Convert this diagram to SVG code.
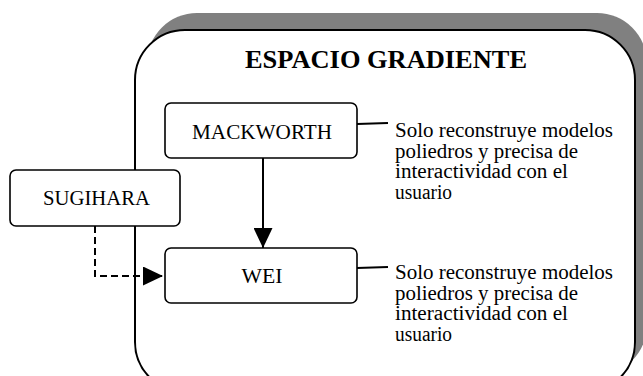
<svg xmlns="http://www.w3.org/2000/svg" width="643" height="376" viewBox="0 0 643 376">
<defs>
<style>
.box{fill:#fff;stroke:#000;stroke-width:1.6}
.lbl{font-family:"Liberation Serif","Times New Roman",serif;font-size:20px;fill:#000;text-anchor:middle}
.note{font-family:"Liberation Serif","Times New Roman",serif;font-size:20px;fill:#000}
.title{font-family:"Liberation Serif","Times New Roman",serif;font-size:26px;font-weight:bold;fill:#000;text-anchor:middle}
.ln{stroke:#000;stroke-width:2;fill:none}
</style>
<marker id="ah" markerWidth="20" markerHeight="19" refX="20" refY="9.5" orient="auto" markerUnits="userSpaceOnUse">
<path d="M0,0 L20,9.5 L0,19 Z" fill="#000"/>
</marker>
</defs>
<rect width="643" height="376" fill="#fff"/>
<g id="espacio-gradiente">
<rect x="147" y="13" width="500" height="362" rx="50" fill="#808080"/>
<rect x="135" y="30" width="500" height="362" rx="50" fill="#fff" stroke="#000" stroke-width="2"/>
<text class="title" x="386" y="68" textLength="282" lengthAdjust="spacingAndGlyphs">ESPACIO GRADIENTE</text>
</g>
<g id="mackworth">
<rect class="box" x="165" y="103" width="192" height="55" rx="6"/>
<text class="lbl" x="262" y="139" textLength="140" lengthAdjust="spacingAndGlyphs">MACKWORTH</text>
</g>
<g id="wei">
<rect class="box" x="165" y="248" width="192" height="55" rx="6"/>
<text class="lbl" x="262" y="283" textLength="41" lengthAdjust="spacingAndGlyphs">WEI</text>
</g>
<g id="sugihara">
<rect class="box" x="10" y="170" width="170" height="56" rx="6"/>
<text class="lbl" x="96.5" y="205" textLength="107" lengthAdjust="spacingAndGlyphs">SUGIHARA</text>
</g>
<g id="note-mackworth">
<text class="note" x="395" y="137" textLength="218" lengthAdjust="spacingAndGlyphs">Solo reconstruye modelos</text>
<text class="note" x="395" y="158" textLength="183" lengthAdjust="spacingAndGlyphs">poliedros y precisa de</text>
<text class="note" x="395" y="178" textLength="173" lengthAdjust="spacingAndGlyphs">interactividad con el</text>
<text class="note" x="395" y="199" textLength="57" lengthAdjust="spacingAndGlyphs">usuario</text>
</g>
<g id="note-wei">
<text class="note" x="395" y="279" textLength="218" lengthAdjust="spacingAndGlyphs">Solo reconstruye modelos</text>
<text class="note" x="395" y="300" textLength="183" lengthAdjust="spacingAndGlyphs">poliedros y precisa de</text>
<text class="note" x="395" y="320" textLength="173" lengthAdjust="spacingAndGlyphs">interactividad con el</text>
<text class="note" x="395" y="341" textLength="57" lengthAdjust="spacingAndGlyphs">usuario</text>
</g>
<g id="connectors">
<line class="ln" x1="263" y1="158" x2="263" y2="248" marker-end="url(#ah)"/>
<polyline class="ln" points="95,226 95,276 163,276" stroke-dasharray="7,4" marker-end="url(#ah)"/>
<line class="ln" x1="357" y1="124" x2="388" y2="123"/>
<line class="ln" x1="357" y1="268" x2="388" y2="267"/>
</g>
</svg>
